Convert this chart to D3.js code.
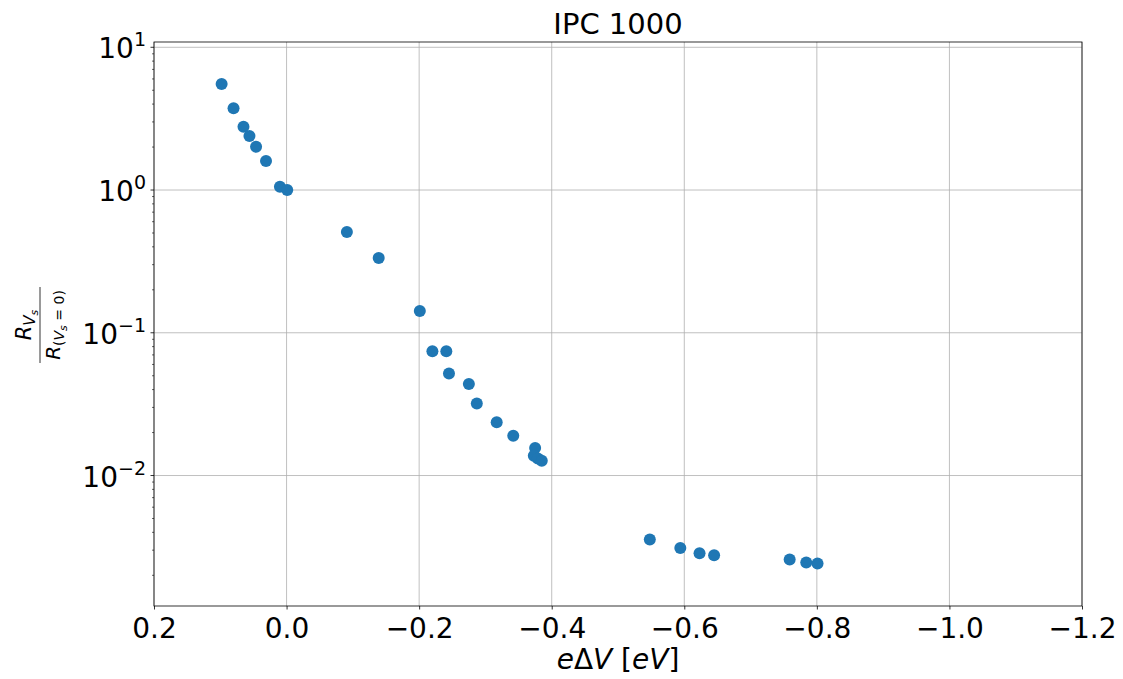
<!DOCTYPE html>
<html>
<head>
<meta charset="utf-8">
<script src="https://cdn.jsdelivr.net/npm/d3@7"></script>
<style>
  body { margin: 0; background: #fff; }
  text { font-family: "DejaVu Sans", sans-serif; fill: #000; }
</style>
</head>
<body>
<div id="my_dataviz"></div>
<script>
const deltaV = [0.098, 0.080, 0.065, 0.056, 0.046, 0.031, 0.010, -0.001,
    -0.091, -0.139, -0.201, -0.220, -0.241, -0.245, -0.275, -0.287,
    -0.317, -0.342, -0.375, -0.373, -0.379, -0.385,
    -0.548, -0.594, -0.623, -0.645, -0.759, -0.784, -0.801];
const ratio = [5.53, 3.74, 2.78, 2.39, 2.01, 1.60, 1.055, 1.0,
    0.508, 0.334, 0.142, 0.0741, 0.0741, 0.0519, 0.0437, 0.0320,
    0.0236, 0.0190, 0.0156, 0.01374, 0.01318, 0.01268,
    0.003565, 0.00311, 0.002858, 0.002768, 0.002583, 0.00246, 0.00242];
const xTicks = [0.2, 0.0, -0.2, -0.4, -0.6, -0.8, -1.0, -1.2];
const yTicks = [1e-2, 1e-1, 1e0, 1e1];
const yExp = ["\u22122", "\u22121", "0", "1"];
const chartTitle = "IPC 1000";

const margin = {top: 42, right: 41, bottom: 73, left: 154},
    width = 1123 - margin.left - margin.right,
    height = 679 - margin.top - margin.bottom;

const svg = d3.select("#my_dataviz")
    .append("svg")
    .attr("width", 1123)
    .attr("height", 679);

const g = svg.append("g")
    .attr("transform", "translate(" + margin.left + "," + margin.top + ")");

const x = d3.scaleLinear()
    .domain([0.2, -1.2])
    .range([0, width]);

const y = d3.scaleLog()
    .domain([Math.pow(10, -2.914), Math.pow(10, 1.037)])
    .range([height, 0]);

// grid
g.append("g")
    .selectAll("line")
    .data(xTicks)
    .enter()
    .append("line")
    .attr("x1", d => x(d)).attr("x2", d => x(d))
    .attr("y1", 0).attr("y2", height)
    .attr("stroke", "#b0b0b0")
    .attr("stroke-width", 0.8);

g.append("g")
    .selectAll("line")
    .data(yTicks)
    .enter()
    .append("line")
    .attr("x1", 0).attr("x2", width)
    .attr("y1", d => y(d)).attr("y2", d => y(d))
    .attr("stroke", "#b0b0b0")
    .attr("stroke-width", 0.8);

// x axis
const xAxis = g.append("g")
    .attr("transform", "translate(0," + height + ")")
    .call(d3.axisBottom(x)
        .tickValues(xTicks)
        .tickSize(3.5)
        .tickPadding(5)
        .tickFormat(d => d3.format(".1f")(d).replace("-", "\u2212")));
xAxis.select(".domain").remove();
xAxis.selectAll("line").attr("stroke", "#000").attr("stroke-width", 0.8);
xAxis.selectAll("text")
    .style("font-size", "28px")
    .attr("dy", "0.84em");

// y axis: minor ticks
const minor = [];
[-3, -2, -1, 0].forEach(function(e) {
    for (let k = 2; k <= 9; k++) {
        const v = k * Math.pow(10, e);
        if (v >= y.domain()[0] && v <= y.domain()[1]) minor.push(v);
    }
});
g.append("g")
    .selectAll("line")
    .data(minor)
    .enter()
    .append("line")
    .attr("x1", -2).attr("x2", 0)
    .attr("y1", d => y(d)).attr("y2", d => y(d))
    .attr("stroke", "#000")
    .attr("stroke-width", 0.6);

const yAx = g.append("g");
yAx.selectAll("line")
    .data(yTicks)
    .enter()
    .append("line")
    .attr("x1", -3.5).attr("x2", 0)
    .attr("y1", d => y(d)).attr("y2", d => y(d))
    .attr("stroke", "#000")
    .attr("stroke-width", 0.8);

const yLab = yAx.selectAll("text")
    .data(yTicks)
    .enter()
    .append("text")
    .attr("text-anchor", "end")
    .attr("x", -8)
    .attr("y", d => y(d) + 11);
yLab.append("tspan")
    .style("font-size", "28px")
    .text("10");
yLab.append("tspan")
    .style("font-size", "19px")
    .attr("dy", -12)
    .text((d, i) => yExp[i]);

// frame
g.append("rect")
    .attr("width", width)
    .attr("height", height)
    .attr("fill", "none")
    .attr("stroke", "#000")
    .attr("stroke-width", 0.8);

// points
g.append("g")
    .selectAll("circle")
    .data(deltaV)
    .enter()
    .append("circle")
    .attr("cx", d => x(d))
    .attr("cy", (d, i) => y(ratio[i]))
    .attr("r", 6)
    .attr("fill", "#1f77b4");

// title
svg.append("text")
    .attr("x", margin.left + width / 2)
    .attr("y", 34)
    .attr("text-anchor", "middle")
    .style("font-size", "29px")
    .text(chartTitle);

// x label
const xl = svg.append("text")
    .attr("x", margin.left + width / 2)
    .attr("y", 669)
    .attr("text-anchor", "middle")
    .style("font-size", "28px");
xl.append("tspan").style("font-style", "italic").text("e");
xl.append("tspan").text("\u0394");
xl.append("tspan").style("font-style", "italic").text("V");
xl.append("tspan").text(" [");
xl.append("tspan").style("font-style", "italic").text("eV");
xl.append("tspan").text("]");

// y label, a fraction, rotated
const yl = svg.append("g")
    .attr("transform", "translate(40,325) rotate(-90)");
yl.append("line")
    .attr("x1", -38).attr("x2", 38)
    .attr("y1", 0).attr("y2", 0)
    .attr("stroke", "#000")
    .attr("stroke-width", 0.8);
const num = yl.append("text")
    .attr("x", 0)
    .attr("y", -9)
    .attr("text-anchor", "middle")
    .style("font-size", "21px");
num.append("tspan").style("font-style", "italic").text("R");
num.append("tspan").style("font-style", "italic").style("font-size", "15px")
    .attr("dy", 4).text("V");
num.append("tspan").style("font-style", "italic").style("font-size", "11px")
    .attr("dy", 3).text("s");
const den = yl.append("text")
    .attr("x", 0)
    .attr("y", 20)
    .attr("text-anchor", "middle")
    .style("font-size", "20px");
den.append("tspan").style("font-style", "italic").text("R");
den.append("tspan").style("font-size", "14px").attr("dy", 4).text("(");
den.append("tspan").style("font-style", "italic").style("font-size", "14px").text("V");
den.append("tspan").style("font-style", "italic").style("font-size", "11px")
    .attr("dy", 3).text("s");
den.append("tspan").style("font-size", "14px").attr("dy", -3).text(" = 0)");
</script>
</body>
</html>
